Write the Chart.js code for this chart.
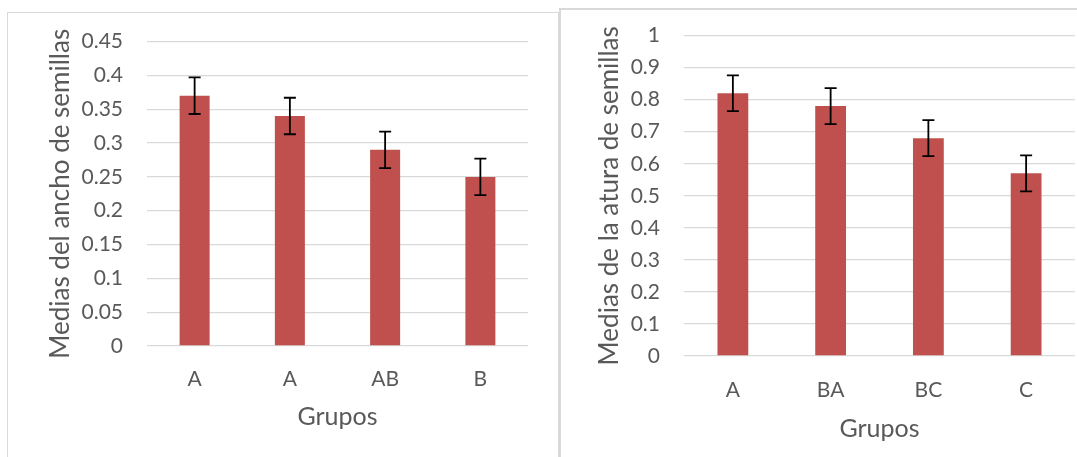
<!DOCTYPE html>
<html>
<head>
<meta charset="utf-8">
<script src="https://cdn.jsdelivr.net/npm/chart.js@4.4.0/dist/chart.umd.min.js"></script>
<style>
  html, body { margin: 0; padding: 0; background: #fff; overflow: hidden; width: 1077px; height: 457px; }
  .panel { position: absolute; border: 1px solid #d9d9d9; background: #fff; }
  #p1 { left: 7px; top: 12px; width: 550px; height: 520px; }
  #p2 { left: 559px; top: 8px; width: 560px; height: 520px; border-width: 2px; }
  canvas { position: absolute; }
  #c1 { left: 8px; top: 5px; }
  #c2 { left: 561px; top: -1px; }
</style>
</head>
<body>
<div class="panel" id="p1"></div>
<div class="panel" id="p2"></div>
<canvas id="c1" width="549" height="452" style="width:549px;height:452px"></canvas>
<canvas id="c2" width="530" height="458" style="width:530px;height:458px"></canvas>
<script>
// left chart: seed width
const groupsAncho = ['A', 'A', 'AB', 'B'];
const mediasAncho = [0.37, 0.34, 0.29, 0.25];
const errorAncho = [0.027, 0.027, 0.027, 0.027];
const ticksAncho = ['0', '0.05', '0.1', '0.15', '0.2', '0.25', '0.3', '0.35', '0.4', '0.45'];

// right chart: seed height
const groupsAltura = ['A', 'BA', 'BC', 'C'];
const mediasAltura = [0.82, 0.78, 0.68, 0.57];
const errorAltura = [0.056, 0.056, 0.056, 0.056];
const ticksAltura = ['0', '0.1', '0.2', '0.3', '0.4', '0.5', '0.6', '0.7', '0.8', '0.9', '1'];

const FONT = 'Lato, Carlito, Calibri, sans-serif';
const GREY = '#595959';
const GRID = '#d9d9d9';
const BAR = '#c0504d';

// draws the error bars from each bar's value +/- its error
const errorBars = {
  id: 'errorBars',
  afterDatasetsDraw(chart, args, opts) {
    const ctx = chart.ctx;
    const y = chart.scales.y;
    const meta = chart.getDatasetMeta(0);
    const vals = chart.data.datasets[0].data;
    ctx.save();
    ctx.strokeStyle = '#000';
    ctx.lineWidth = 1.8;
    meta.data.forEach((bar, i) => {
      const top = y.getPixelForValue(vals[i] + opts.errors[i]);
      const bot = y.getPixelForValue(vals[i] - opts.errors[i]);
      ctx.beginPath();
      ctx.moveTo(bar.x, top); ctx.lineTo(bar.x, bot);
      ctx.moveTo(bar.x - 6, top); ctx.lineTo(bar.x + 6, top);
      ctx.moveTo(bar.x - 6, bot); ctx.lineTo(bar.x + 6, bot);
      ctx.stroke();
    });
    ctx.restore();
  }
};

function makeChart(id, cfg) {
  return new Chart(document.getElementById(id), {
    type: 'bar',
    data: {
      labels: cfg.labels,
      datasets: [{
        data: cfg.values,
        backgroundColor: BAR,
        barPercentage: 0.63,
        categoryPercentage: 0.5
      }]
    },
    plugins: [errorBars],
    options: {
      responsive: false,
      animation: false,
      layout: { padding: { top: cfg.padTop, right: cfg.padRight, bottom: 0, left: 0 } },
      plugins: {
        legend: { display: false },
        tooltip: { enabled: false },
        errorBars: { errors: cfg.errors }
      },
      scales: {
        x: {
          grid: { display: false },
          border: { display: false },
          ticks: { color: GREY, font: { family: FONT, size: 21 }, padding: cfg.xTickPad },
          title: {
            display: true, text: 'Grupos', color: GREY,
            font: { family: FONT, size: 25 },
            padding: { top: 4, bottom: cfg.xTitlePad }
          },
          afterFit: s => { s.height = cfg.xHeight; }
        },
        y: {
          min: 0,
          max: cfg.max,
          grid: { color: GRID, lineWidth: 1.3, drawTicks: false },
          border: { display: false },
          ticks: {
            stepSize: cfg.step,
            color: GREY,
            font: { family: FONT, size: 21 },
            padding: 24,
            callback: (v, i) => cfg.tickLabels[i]
          },
          title: {
            display: true, text: cfg.yTitle, color: GREY,
            font: { family: FONT, size: 26 },
            padding: { top: cfg.yTitlePad, bottom: 0 }
          },
          afterFit: s => { s.width = cfg.yWidth; }
        }
      }
    }
  });
}

makeChart('c1', {
  labels: groupsAncho, values: mediasAncho, errors: errorAncho, tickLabels: ticksAncho,
  max: 0.45, step: 0.05, yTitle: 'Medias del ancho de semillas',
  padTop: 19, padRight: 29, yWidth: 139, xHeight: 111,
  xTickPad: 13, xTitlePad: 25, yTitlePad: 37
});

makeChart('c2', {
  labels: groupsAltura, values: mediasAltura, errors: errorAltura, tickLabels: ticksAltura,
  max: 1, step: 0.1, yTitle: 'Medias de la atura de semillas',
  padTop: 16, padRight: 16, yWidth: 123, xHeight: 101,
  xTickPad: 14, xTitlePad: 13, yTitlePad: 33
});
</script>
</body>
</html>
